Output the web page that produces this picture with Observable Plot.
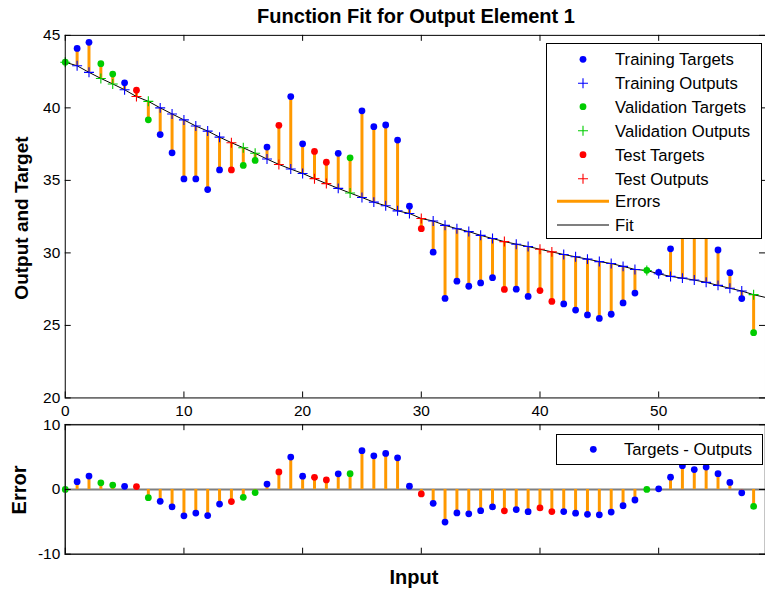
<!DOCTYPE html>
<html><head><meta charset="utf-8">
<script src="https://cdn.jsdelivr.net/npm/d3@7"></script>
<script src="https://cdn.jsdelivr.net/npm/@observablehq/plot@0.6"></script>
<style>
body{margin:0;background:#fff;font-family:Arial,"Liberation Sans",sans-serif;}
#wrap{position:relative;width:765px;height:590px;overflow:hidden;background:#fff;}
.abs{position:absolute;white-space:nowrap;color:#000;}
.lbl{font-weight:bold;}
</style></head><body><div id="wrap"></div>
<script>
// ---- data ----
const inputs = [0,1,2,3,4,5,6,7,8,9,10,11,12,13,14,15,16,17,18,19,20,21,22,23,24,25,26,27,28,29,
  30,31,32,33,34,35,36,37,38,39,40,41,42,43,44,45,46,47,48,49,50,51,52,53,54,55,56,57,58];
const groups = ["V","T","T","V","V","T","S","V","T","T","T","T","T","T","S","V","V","T","S","T",
  "T","S","S","T","V","T","T","T","T","T","S","T","T","T","T","T","T","S","T","T",
  "S","S","T","T","T","T","T","T","T","V","T","T","T","T","T","T","T","T","V"];
const targets = [43.15,44.10,44.52,43.05,42.33,41.73,41.22,39.18,38.16,36.90,35.10,35.10,34.37,35.72,35.72,36.03,36.38,37.30,38.80,40.78,
  37.52,37.00,36.25,36.87,36.56,39.80,38.70,38.82,37.78,33.22,31.67,30.05,26.86,28.05,27.70,27.93,28.29,27.48,27.50,27.00,
  27.40,26.65,26.48,26.06,25.72,25.48,25.77,26.55,27.23,28.80,28.66,30.28,31.93,31.20,31.43,30.20,28.64,26.85,24.50];
const outputs = [43.15,42.90,42.45,42.03,41.65,41.25,40.78,40.45,40.00,39.58,39.17,38.75,38.40,37.98,37.60,37.25,36.87,36.47,36.10,35.78,
  35.48,35.12,34.78,34.45,34.13,33.82,33.50,33.25,32.90,32.72,32.37,32.20,31.90,31.67,31.47,31.21,30.99,30.78,30.60,30.44,
  30.25,30.07,29.89,29.73,29.57,29.40,29.27,29.07,28.86,28.79,28.56,28.38,28.26,28.13,27.97,27.76,27.56,27.37,27.12];
const fitTailX = [59];
const fitTailY = [26.93];
const groupKeys = ["T","V","S"];
const groupColors = ["#0000ff","#00cc00","#ff0000"];
const xTicks = [0,10,20,30,40,50];
const yTicksTop = [20,25,30,35,40,45];
const yTicksBottom = [-10,0,10];
const legendTop = ["Training Targets","Training Outputs","Validation Targets","Validation Outputs","Test Targets","Test Outputs","Errors","Fit"];
const legendBottom = ["Targets - Outputs"];
const errColor = "#ff9900";

// ---- derived table ----
const rows = inputs.map((x,i)=>({x, g:groups[i], t:targets[i], o:outputs[i], e:targets[i]-outputs[i]}));
const fitRows = inputs.map((x,i)=>({x, y:outputs[i]})).concat(fitTailX.map((x,i)=>({x, y:fitTailY[i]})));

const W = 768, ML = 65, frameW = W - ML;
const plusSym = {draw(ctx, size){ const r = Math.sqrt(size/Math.PI); ctx.moveTo(-r,0); ctx.lineTo(r,0); ctx.moveTo(0,-r); ctx.lineTo(0,r);} };
const svgStyle = "background:transparent;overflow:visible;font-family:Arial,'Liberation Sans',sans-serif;color:#000;position:absolute;left:0;";
const TL = 6;
const tickFont = 15.5;
const fmt = d => String(d);

// ---- top panel ----
const topH = 430, topMT = 35, topMB = 31, topFH = topH - topMT - topMB;
const topPlot = Plot.plot({
  width: W, height: topH, marginLeft: ML, marginRight: 0, marginTop: topMT, marginBottom: topMB,
  style: svgStyle + "top:0;",
  x: {domain:[0,59], axis:null},
  y: {domain:[20,45], axis:null},
  color: {domain: groupKeys, range: groupColors},
  marks: [
    Plot.ruleX(rows, {x:"x", y1:"o", y2:"t", stroke: errColor, strokeWidth: 3}),
    Plot.line(fitRows, {x:"x", y:"y", stroke:"#000", strokeWidth:1}),
    Plot.dot(rows, {x:"x", y:"o", symbol: plusSym, r: 5, stroke:"g", fill:"none", strokeWidth:1.1}),
    Plot.dot(rows, {x:"x", y:"t", r: 3.4, fill:"g", stroke:null}),
    Plot.frame({stroke:"#000", strokeWidth:1}),
    Plot.tickX(xTicks, {x:d=>d, insetTop: topFH - TL, stroke:"#000"}),
    Plot.tickX(xTicks, {x:d=>d, insetBottom: topFH - TL, stroke:"#000"}),
    Plot.tickY(yTicksTop, {y:d=>d, insetRight: frameW - TL, stroke:"#000"}),
    Plot.tickY(yTicksTop, {y:d=>d, insetLeft: frameW - TL, stroke:"#000"}),
    Plot.axisX(xTicks, {anchor:"bottom", tickSize:0, tickPadding:7, fontSize:tickFont, label:null, tickFormat: fmt}),
    Plot.axisY(yTicksTop, {anchor:"left", tickSize:0, tickPadding:5, fontSize:tickFont, label:null, tickFormat: fmt})
  ]
});

// ---- bottom panel ----
const botTop = 400, botH = 190, botMT = 24.3, botMB = 35.7, botFH = botH - botMT - botMB;
const botPlot = Plot.plot({
  width: W, height: botH, marginLeft: ML, marginRight: 0, marginTop: botMT, marginBottom: botMB,
  style: svgStyle + "top:" + botTop + "px;",
  x: {domain:[0,59], axis:null},
  y: {domain:[-10,10], axis:null},
  color: {domain: groupKeys, range: groupColors},
  marks: [
    Plot.ruleY([0], {stroke:"#7f7f7f", strokeWidth:2}),
    Plot.ruleX(rows, {x:"x", y1:0, y2:"e", stroke: errColor, strokeWidth: 3}),
    Plot.dot(rows, {x:"x", y:"e", r: 3.4, fill:"g", stroke:null}),
    Plot.frame({stroke:"#222", strokeWidth:1.5}),
    Plot.tickX(xTicks, {x:d=>d, insetTop: botFH - TL, stroke:"#000"}),
    Plot.tickX(xTicks, {x:d=>d, insetBottom: botFH - TL, stroke:"#000"}),
    Plot.tickY(yTicksBottom, {y:d=>d, insetRight: frameW - TL, stroke:"#000"}),
    Plot.tickY(yTicksBottom, {y:d=>d, insetLeft: frameW - TL, stroke:"#000"}),
    Plot.axisY(yTicksBottom, {anchor:"left", tickSize:0, tickPadding:5, fontSize:tickFont, label:null, tickFormat: fmt})
  ]
});

const wrap = document.getElementById("wrap");
wrap.appendChild(topPlot);
wrap.appendChild(botPlot);

function addText(txt, css, cls){
  const d = document.createElement("div");
  d.className = "abs " + (cls||"");
  d.textContent = txt;
  d.style.cssText += css;
  wrap.appendChild(d);
  return d;
}
addText("Function Fit for Output Element 1", "left:416px;top:16px;transform:translate(-50%,-50%);font-size:20px;", "lbl");
addText("Output and Target", "left:22px;top:218px;transform:translate(-50%,-50%) rotate(-90deg);font-size:19px;", "lbl");
addText("Error", "left:19px;top:490px;transform:translate(-50%,-50%) rotate(-90deg);font-size:20px;", "lbl");
addText("Input", "left:414px;top:577px;transform:translate(-50%,-50%);font-size:20px;", "lbl");

// ---- legends ----
function legendSvg(left, top, w, h){
  const s = d3.select(wrap).append("svg").attr("width", w+1).attr("height", h+1)
    .style("position","absolute").style("left", left+"px").style("top", top+"px").style("overflow","visible");
  s.append("rect").attr("x",0.5).attr("y",0.5).attr("width",w).attr("height",h).attr("fill","#fff").attr("stroke","#000");
  return s;
}
const legFont = 16.7;
const lt = legendSvg(546, 43, 215, 195);
const rowY = [16.3, 40.3, 63.7, 87.7, 111.7, 135.7, 158.3, 182];
legendTop.forEach((label, i) => {
  const y = rowY[i];
  if (i < 6) {
    const c = groupColors[Math.floor(i/2)];
    if (i % 2 === 0) lt.append("circle").attr("cx",37).attr("cy",y).attr("r",3.4).attr("fill",c);
    else lt.append("path").attr("d",`M32,${y}H42M37,${y-5}V${y+5}`).attr("stroke",c).attr("stroke-width",1.1);
  } else if (i === 6) {
    lt.append("line").attr("x1",11).attr("x2",63).attr("y1",y).attr("y2",y).attr("stroke",errColor).attr("stroke-width",3);
  } else {
    lt.append("line").attr("x1",11).attr("x2",63).attr("y1",y).attr("y2",y).attr("stroke","#7f7f7f").attr("stroke-width",2);
  }
  lt.append("text").attr("x",69).attr("y",y).attr("dy","0.35em").attr("font-size",legFont)
    .attr("font-family","Arial,'Liberation Sans',sans-serif").text(label);
});
const lb = legendSvg(556, 434, 206, 30);
lb.append("circle").attr("cx",37.3).attr("cy",15.3).attr("r",3.4).attr("fill",groupColors[0]);
lb.append("text").attr("x",68).attr("y",15.3).attr("dy","0.35em").attr("font-size",legFont)
  .attr("font-family","Arial,'Liberation Sans',sans-serif").text(legendBottom[0]);
</script>
</body></html>
